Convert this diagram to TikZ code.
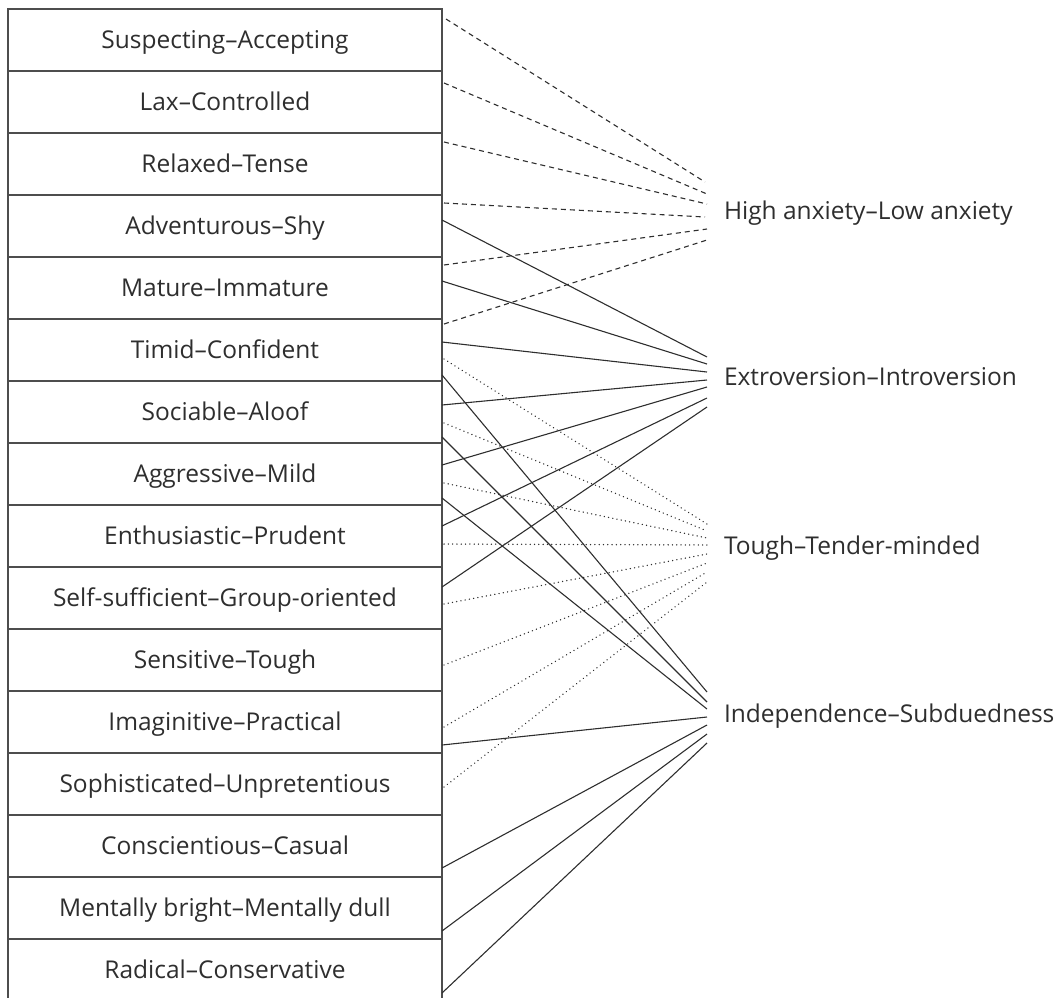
\documentclass[tikz,border=0pt]{standalone}
\usepackage{fontspec}
\setmainfont{Open Sans}
\usetikzlibrary{calc}
\definecolor{ink}{HTML}{2E2E2E}
\begin{document}
\begin{tikzpicture}[x=1pt,y=-1pt,
  labelfont/.style={font=\fontsize{24.5}{29}\selectfont, text=ink,
    text height=17.5pt, text depth=0pt},
  trait/.style={labelfont, draw=ink!85, line width=1.5pt, inner sep=0pt,
    outer sep=0pt, minimum width=434pt, minimum height=62pt},
  factor/.style={labelfont, anchor=west, inner xsep=17pt, inner ysep=0pt,
    outer sep=0pt},
  link/.style={draw=ink, line width=1.1pt},
  anxlink/.style={link, dash pattern=on 5pt off 4pt},
  toughlink/.style={link, line width=1.5pt, line cap=round,
    dash pattern=on 0.01pt off 4.3pt},
]
\useasboundingbox (0,0) rectangle (1054,997);

% column of bipolar trait scales
\foreach \t [count=\i] in {Suspecting–Accepting, Lax–Controlled, Relaxed–Tense,
  Adventurous–Shy, Mature–Immature, Timid–Confident, Sociable–Aloof,
  Aggressive–Mild, Enthusiastic–Prudent, Self-sufficient–Group-oriented,
  Sensitive–Tough, Imaginitive–Practical, Sophisticated–Unpretentious,
  Conscientious–Casual, Mentally bright–Mentally dull, Radical–Conservative}
  \node[trait] (b\i) at (225,{40+62*(\i-1)}) {\t};

% second-order factors
\node[factor] (ha) at (707,211) {High anxiety–Low anxiety};
\node[factor] (ex) at (707,377) {Extroversion–Introversion};
\node[factor] (tt) at (707,546) {Tough–Tender-minded};
\node[factor] (id) at (707,714) {Independence–Subduedness};

% high anxiety (dashed)
\draw[anxlink] ($(b1.east)+(4,-21)$) -- ($(ha.west)+(-2,-29)$);
\draw[anxlink] ($(b2.east)+(2,-19)$) -- ($(ha.west)+(0,-17)$);
\draw[anxlink] ($(b3.east)+(2,-22)$) -- ($(ha.west)+(0,-7)$);
\draw[anxlink] ($(b4.east)+(2,-23)$) -- ($(ha.west)+(-2,6)$);
\draw[anxlink] ($(b5.east)+(2,-23)$) -- ($(ha.west)+(0,18)$);
\draw[anxlink] ($(b6.east)+(2,-26)$) -- ($(ha.west)+(0,29)$);

% extroversion (solid)
\draw[link] ($(b4.east)+(0,-6)$) -- ($(ex.west)+(0,-20)$);
\draw[link] ($(b5.east)+(0,-7)$) -- ($(ex.west)+(0,-13)$);
\draw[link] ($(b6.east)+(0,-8)$) -- ($(ex.west)+(0,-5)$);
\draw[link] ($(b7.east)+(0,-7)$) -- ($(ex.west)+(0,3)$);
\draw[link] ($(b8.east)+(0,-9)$) -- ($(ex.west)+(0,10)$);
\draw[link] ($(b9.east)+(0,-10)$) -- ($(ex.west)+(0,21)$);
\draw[link] ($(b10.east)+(0,-11)$) -- ($(ex.west)+(0,30)$);

% tough-mindedness (dotted)
\draw[toughlink] ($(b6.east)+(2,9)$) -- ($(tt.west)+(0,-22)$);
\draw[toughlink] ($(b7.east)+(2,11)$) -- ($(tt.west)+(0,-15)$);
\draw[toughlink] ($(b8.east)+(2,9)$) -- ($(tt.west)+(0,-8)$);
\draw[toughlink] ($(b9.east)+(2,8)$) -- ($(tt.west)+(0,-1)$);
\draw[toughlink] ($(b10.east)+(2,6)$) -- ($(tt.west)+(0,8)$);
\draw[toughlink] ($(b11.east)+(2,5)$) -- ($(tt.west)+(0,17)$);
\draw[toughlink] ($(b12.east)+(2,5)$) -- ($(tt.west)+(0,26)$);
\draw[toughlink] ($(b13.east)+(2,3)$) -- ($(tt.west)+(0,36)$);

% independence (solid)
\draw[link] ($(b6.east)+(0,25)$) -- ($(id.west)+(0,-22)$);
\draw[link] ($(b7.east)+(0,25)$) -- ($(id.west)+(0,-12)$);
\draw[link] ($(b8.east)+(0,24)$) -- ($(id.west)+(0,-5)$);
\draw[link] ($(b12.east)+(0,23)$) -- ($(id.west)+(0,3)$);
\draw[link] ($(b14.east)+(0,22)$) -- ($(id.west)+(0,11)$);
\draw[link] ($(b15.east)+(0,23)$) -- ($(id.west)+(0,20)$);
\draw[link] ($(b16.east)+(0,23)$) -- ($(id.west)+(0,29)$);
\end{tikzpicture}
\end{document}
